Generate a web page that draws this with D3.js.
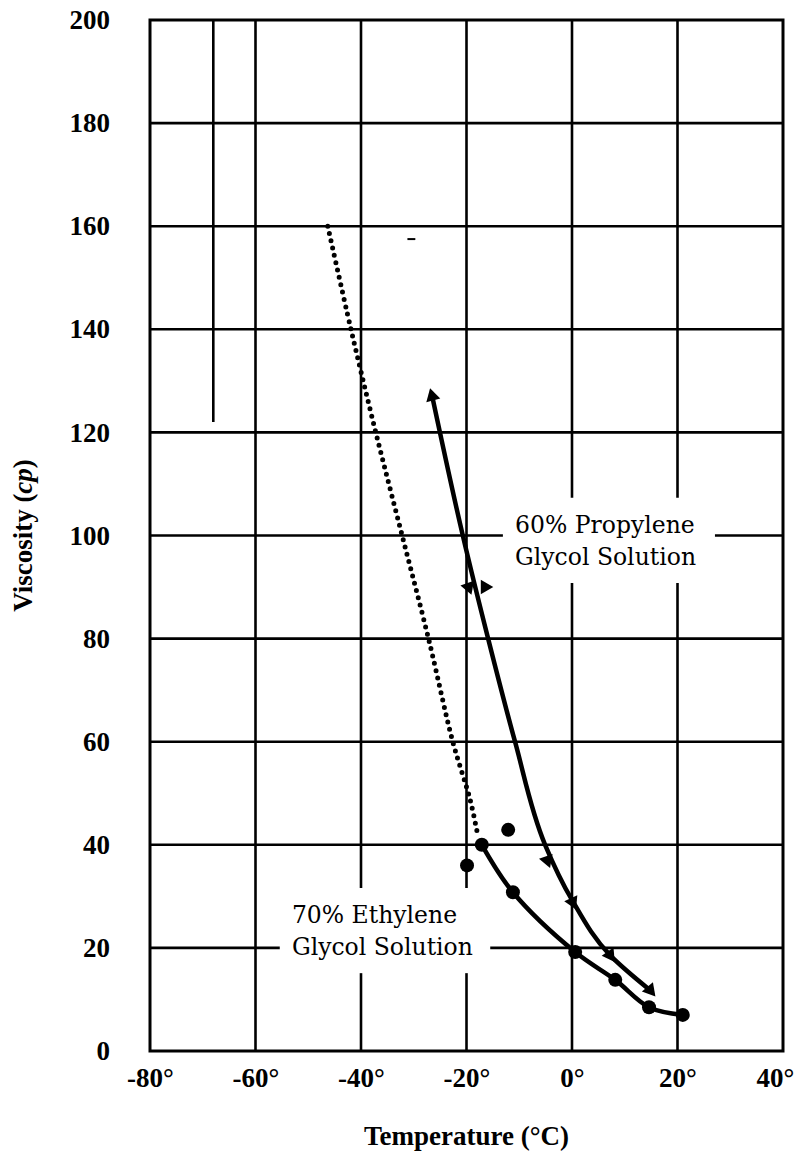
<!DOCTYPE html>
<html>
<head>
<meta charset="utf-8">
<script src="https://cdn.jsdelivr.net/npm/d3@7"></script>
<style>
  body{margin:0;background:#fff;}
  svg{display:block;}
</style>
</head>
<body>
<div id="chart"></div>
<script>
let w=796;
let h=1151;

// ticks
let xTicks=[-80,-60,-40,-20,0,20,40];
let yTicks=[0,20,40,60,80,100,120,140,160,180,200];

// 70% ethylene glycol (solid, circles)
let ethylene=[[-17.1,40],[-11.2,30.8],[0.6,19.2],[8.2,13.8],[14.6,8.5],[21,7]];
let ethyleneExtra=[[-19.9,36],[-12.1,42.9]];
// dotted extrapolation of ethylene
let ethyleneDotted=[[-46.3,160],[-41.9,140],[-37.2,120],[-32.2,100],[-27.2,80],[-22.6,60],[-19.3,48.7],[-17.8,41.5]];
// 60% propylene glycol (solid, triangles)
let propylene=[[-26.5,127],[-20.7,100],[-15.9,80],[-10.8,60],[-5.1,40],[0,29.3],[7.2,18.6],[14.8,11.8]];
// triangle markers: temp, value, rotation
let propyleneMarks=[[-26.5,127,-15],[-19.6,90,160],[-16.5,90,90],[-4.7,37,160],[0.1,28.9,155],[7.2,18.6,145],[14.8,11.8,140]];

// grid lines with breaks (data units)
let vGrid=[
  {t:-68,segs:[[122,200]]},
  {t:-60,segs:[[0,200]]},
  {t:-40,segs:[[0,15.1],[31.6,200]]},
  {t:-20,segs:[[0,15.1],[31.6,200]]},
  {t:0,segs:[[0,90.8],[107.3,200]]},
  {t:20,segs:[[0,90.8],[107.3,200]]}
];
let hGrid=[
  {v:20,segs:[[-80,-55.4],[-15.5,40]]},
  {v:40,segs:[[-80,40]]},
  {v:60,segs:[[-80,40]]},
  {v:80,segs:[[-80,40]]},
  {v:100,segs:[[-80,-13.1],[27.1,40]]},
  {v:120,segs:[[-80,40]]},
  {v:140,segs:[[-80,40]]},
  {v:160,segs:[[-80,40]]},
  {v:180,segs:[[-80,40]]}
];

let labels=[
  {t:-10.8,v:100.5,lines:["60% Propylene","Glycol Solution"]},
  {t:-53.1,v:24.8,lines:["70% Ethylene","Glycol Solution"]}
];

let svg=d3.select("#chart").append("svg")
  .attr("width",w)
  .attr("height",h);

let xScale=d3.scaleLinear().domain([-80,40]).range([150,783]);
let yScale=d3.scaleLinear().domain([0,200]).range([1051,20]);

// grid
let grid=svg.append("g").attr("stroke","#000").attr("stroke-width",2.6);
vGrid.forEach(function(g){
  g.segs.forEach(function(s){
    grid.append("line")
      .attr("x1",xScale(g.t)).attr("x2",xScale(g.t))
      .attr("y1",yScale(s[0])).attr("y2",yScale(s[1]));
  });
});
hGrid.forEach(function(g){
  g.segs.forEach(function(s){
    grid.append("line")
      .attr("x1",xScale(s[0])).attr("x2",xScale(s[1]))
      .attr("y1",yScale(g.v)).attr("y2",yScale(g.v));
  });
});
// stray mark
grid.append("line")
  .attr("x1",xScale(-31.2)).attr("x2",xScale(-29.7))
  .attr("y1",yScale(157.5)).attr("y2",yScale(157.5))
  .attr("stroke-width",2);

// frame
svg.append("rect")
  .attr("x",xScale(-80)).attr("y",yScale(200))
  .attr("width",xScale(40)-xScale(-80))
  .attr("height",yScale(0)-yScale(200))
  .attr("fill","none").attr("stroke","#000").attr("stroke-width",3);

// axes
let xAxis=d3.axisBottom(xScale).tickValues(xTicks).tickSize(0).tickPadding(17)
  .tickFormat(function(d){return d+"°";});
let xAxisGroup=svg.append("g").attr("transform","translate(0,"+yScale(0)+")").call(xAxis);
xAxisGroup.select(".domain").remove();
xAxisGroup.selectAll("text")
  .style("font-family","'Liberation Serif', serif")
  .style("font-weight","bold")
  .style("font-size","27px")
  .attr("fill","#000")
  .attr("dx",function(d){return d==40?-8:0;});

let yAxis=d3.axisLeft(yScale).tickValues(yTicks).tickSize(0).tickPadding(40);
let yAxisGroup=svg.append("g").attr("transform","translate("+xScale(-80)+",0)").call(yAxis);
yAxisGroup.select(".domain").remove();
yAxisGroup.selectAll("text")
  .style("font-family","'Liberation Serif', serif")
  .style("font-weight","bold")
  .style("font-size","27px")
  .attr("fill","#000");

// axis titles
svg.append("text")
  .attr("x",xScale(-20)).attr("y",1145)
  .attr("text-anchor","middle")
  .style("font-family","'Liberation Serif', serif")
  .style("font-weight","bold")
  .style("font-size","27px")
  .text("Temperature (°C)");

let yt=svg.append("text")
  .attr("transform","translate(32,"+yScale(100)+") rotate(-90)")
  .attr("text-anchor","middle")
  .style("font-family","'Liberation Serif', serif")
  .style("font-weight","bold")
  .style("font-size","27px");
yt.append("tspan").text("Viscosity (");
yt.append("tspan").style("font-style","italic").text("cp");
yt.append("tspan").text(")");

// curves
let line=d3.line()
  .x(function(d){return xScale(d[0]);})
  .y(function(d){return yScale(d[1]);})
  .curve(d3.curveCatmullRom.alpha(0.5));
let lineY=d3.line()
  .x(function(d){return xScale(d[0]);})
  .y(function(d){return yScale(d[1]);})
  .curve(d3.curveMonotoneY);

svg.append("path")
  .datum(ethyleneDotted)
  .attr("d",line)
  .attr("fill","none")
  .attr("stroke","#000")
  .attr("stroke-width",5)
  .attr("stroke-linecap","round")
  .attr("stroke-dasharray","0 7.5");

svg.append("path")
  .datum(ethylene)
  .attr("d",line)
  .attr("fill","none")
  .attr("stroke","#000")
  .attr("stroke-width",4.5);

svg.append("path")
  .datum(propylene)
  .attr("d",lineY)
  .attr("fill","none")
  .attr("stroke","#000")
  .attr("stroke-width",4.5);

// markers
svg.selectAll(".eth").data(ethylene.concat(ethyleneExtra)).enter()
  .append("circle")
  .attr("class","eth")
  .attr("cx",function(d){return xScale(d[0]);})
  .attr("cy",function(d){return yScale(d[1]);})
  .attr("r",7)
  .attr("fill","#000");

let tri=d3.symbol().type(d3.symbolTriangle).size(90);
svg.selectAll(".prop").data(propyleneMarks).enter()
  .append("path")
  .attr("class","prop")
  .attr("d",tri)
  .attr("transform",function(d){
    return "translate("+xScale(d[0])+","+yScale(d[1])+") rotate("+d[2]+")";
  })
  .attr("fill","#000");

// curve labels
labels.forEach(function(l){
  let t=svg.append("text")
    .attr("x",xScale(l.t)).attr("y",yScale(l.v))
    .style("font-family","'DejaVu Serif', serif")
    .style("font-size","23.5px")
    .attr("fill","#000");
  l.lines.forEach(function(s,i){
    t.append("tspan").attr("x",xScale(l.t)).attr("dy",i==0?0:32).text(s);
  });
});
</script>
</body>
</html>
